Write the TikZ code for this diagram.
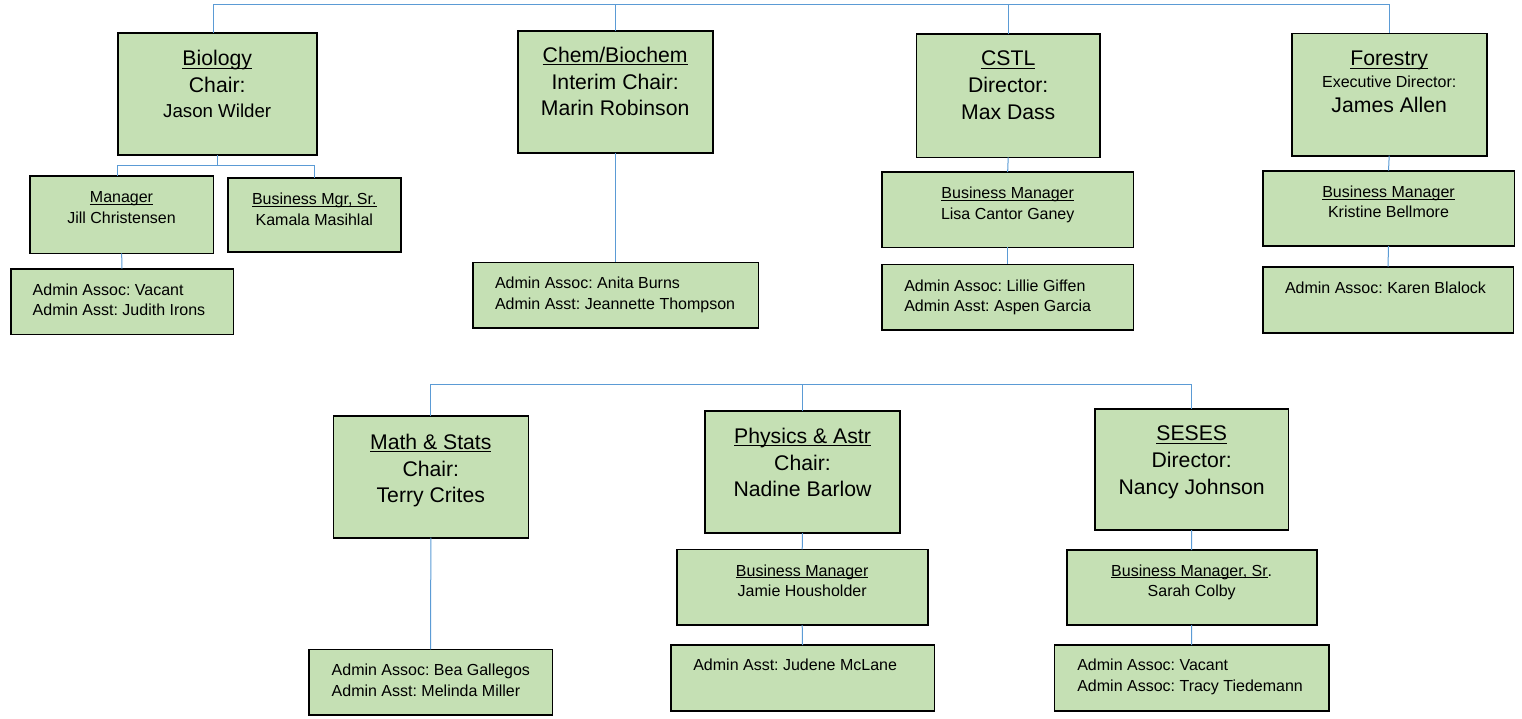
\documentclass[tikz,border=0pt]{standalone}
\usepackage{fontspec}
\setmainfont{Liberation Sans}
\usetikzlibrary{calc}
\frenchspacing
\definecolor{boxfill}{HTML}{C5E0B4}
\definecolor{connblue}{HTML}{5B9BD5}
\newcommand\myul[1]{\setbox0\hbox{#1}\rlap{\rule[-0.15em]{\wd0}{0.065em}}\box0}
\newcommand\bigf{\fontsize{21.2}{26.7}\selectfont}
\newcommand\smallf{\fontsize{16}{20.7}\selectfont}
\newcommand\orgbox[5]{\node[orgbox, minimum width=#4pt-#2pt, minimum height=#5pt-#3pt, anchor=north west] (#1) at (#2,#3) {};}
\tikzset{
  orgbox/.style={draw=black, fill=boxfill, line width=1.6pt, inner sep=0pt, outer sep=0pt},
  conn/.style={draw=connblue, line width=1pt},
  txt/.style={inner sep=0pt, outer sep=0pt, text=black}
}
\begin{document}
\begin{tikzpicture}[x=1pt,y=-1pt]
\useasboundingbox (0,0) rectangle (1522,718);
% ---------- boxes, top row ----------
\orgbox{bio}{117.7}{33}{316.7}{155}
\orgbox{mgr}{30}{175.7}{213.3}{253.3}
\orgbox{bmgr}{227.7}{177.7}{401}{252}
\orgbox{bioad}{10.7}{268.7}{233.3}{334.3}
\orgbox{chem}{517.7}{30.7}{712.7}{152.7}
\orgbox{chemad}{472.7}{262.3}{758.3}{327.7}
\orgbox{cstl}{916.4}{34}{1100}{157.3}
\orgbox{cstlbm}{882}{172}{1133.3}{247.3}
\orgbox{cstlad}{882}{264.3}{1133.3}{330}
\orgbox{for}{1291.7}{33.3}{1486.7}{155.7}
\orgbox{forbm}{1262.7}{170.7}{1514.3}{246}
\orgbox{forad}{1262.7}{266.7}{1513.3}{332.7}
% ---------- boxes, bottom row ----------
\orgbox{math}{333.3}{416}{528.3}{537.7}
\orgbox{mathad}{309}{649.3}{552.3}{715}
\orgbox{phys}{705}{411}{900}{533}
\orgbox{physbm}{676.7}{549.3}{927.7}{625}
\orgbox{physad}{670.7}{645}{934.3}{711}
\orgbox{seses}{1095}{409}{1288.3}{530}
\orgbox{sesesbm}{1066.7}{550}{1316.7}{625}
\orgbox{sesesad}{1054.3}{645}{1329}{711}
% ---------- texts ----------
\node[txt, anchor=base] (bio-t) at (217.2,65.8) {\bigf\begin{tabular}[t]{@{}c@{}}\myul{Biology}\\ Chair:\\[-1.4pt] \fontsize{18.7}{22}\selectfont Jason Wilder\end{tabular}};
\node[txt, anchor=base] (mgr-t) at (121.5,202.3) {\smallf\begin{tabular}[t]{@{}c@{}}\myul{Manager}\\ Jill Christensen\end{tabular}};
\node[txt, anchor=base] (bmgr-t) at (314.3,204.3) {\smallf\begin{tabular}[t]{@{}c@{}}\myul{Business Mgr, Sr.}\\ Kamala Masihlal\end{tabular}};
\node[txt, anchor=base west] (bioad-t) at (32.7,295) {\smallf\begin{tabular}[t]{@{}l@{}}Admin Assoc: Vacant\\ Admin Asst: Judith Irons\end{tabular}};
\node[txt, anchor=base] (chem-t) at (615.2,62.3) {\bigf\begin{tabular}[t]{@{}c@{}}\myul{Chem/Biochem}\\ Interim Chair:\\ Marin Robinson\end{tabular}};
\node[txt, anchor=base west] (chemad-t) at (495,288.3) {\smallf\begin{tabular}[t]{@{}l@{}}Admin Assoc: Anita Burns\\ Admin Asst: Jeannette Thompson\end{tabular}};
\node[txt, anchor=base] (cstl-t) at (1008.2,65.7) {\bigf\begin{tabular}[t]{@{}c@{}}\myul{CSTL}\\ Director:\\ Max Dass\end{tabular}};
\node[txt, anchor=base] (cstlbm-t) at (1007.7,198.3) {\smallf\begin{tabular}[t]{@{}c@{}}\myul{Business Manager}\\ Lisa Cantor Ganey\end{tabular}};
\node[txt, anchor=base west] (cstlad-t) at (904.3,291) {\smallf\begin{tabular}[t]{@{}l@{}}Admin Assoc: Lillie Giffen\\ Admin Asst: Aspen Garcia\end{tabular}};
\node[txt, anchor=base] (for-t) at (1389.2,65.7) {\bigf\begin{tabular}[t]{@{}c@{}}\myul{Forestry}\\[-4.7pt] \fontsize{16}{20}\selectfont Executive Director:\\[-1.7pt] James Allen\end{tabular}};
\node[txt, anchor=base] (forbm-t) at (1388.5,197.3) {\smallf\begin{tabular}[t]{@{}c@{}}\myul{Business Manager}\\[-1pt] Kristine Bellmore\end{tabular}};
\node[txt, anchor=base west] (forad-t) at (1285,293.3) {\smallf Admin Assoc: Karen Blalock};
\node[txt, anchor=base] (math-t) at (430.8,449.3) {\bigf\begin{tabular}[t]{@{}c@{}}\myul{Math \& Stats}\\ Chair:\\ Terry Crites\end{tabular}};
\node[txt, anchor=base west] (mathad-t) at (331.7,675.3) {\smallf\begin{tabular}[t]{@{}l@{}}Admin Assoc: Bea Gallegos\\ Admin Asst: Melinda Miller\end{tabular}};
\node[txt, anchor=base] (phys-t) at (802.5,443.3) {\bigf\begin{tabular}[t]{@{}c@{}}\myul{Physics \& Astr}\\ Chair:\\ Nadine Barlow\end{tabular}};
\node[txt, anchor=base] (physbm-t) at (802.2,576) {\smallf\begin{tabular}[t]{@{}c@{}}\myul{Business Manager}\\ Jamie Housholder\end{tabular}};
\node[txt, anchor=base west] (physad-t) at (693.3,670.7) {\smallf Admin Asst: Judene McLane};
\node[txt, anchor=base] (seses-t) at (1191.7,440.7) {\bigf\begin{tabular}[t]{@{}c@{}}\myul{SESES}\\ Director:\\ Nancy Johnson\end{tabular}};
\node[txt, anchor=base] (sesesbm-t) at (1191.7,576) {\smallf\begin{tabular}[t]{@{}c@{}}\myul{Business Manager, Sr}.\\ Sarah Colby\end{tabular}};
\node[txt, anchor=base west] (sesesad-t) at (1077.3,670.7) {\smallf\begin{tabular}[t]{@{}l@{}}Admin Assoc: Vacant\\ Admin Assoc: Tracy Tiedemann\end{tabular}};
% ---------- connectors ----------
\coordinate (topbus) at (0,4.5);
\coordinate (lowbus) at (0,384);
\coordinate (biobus) at (0,165.7);
\draw[conn] ([xshift=-3.5pt]bio.north) |- (topbus -| for.north) -- (for.north);
\draw[conn] (chem.north) -- (chem.north |- topbus);
\draw[conn] (cstl.north) -- (cstl.north |- topbus);
\draw[conn] (bio.south) -- (bio.south |- biobus);
\draw[conn] ([xshift=-3.8pt]mgr.north) |- (biobus -| bmgr.north) -- (bmgr.north);
\draw[conn] (mgr.south) -- (bioad.north);
\draw[conn] (chem.south) -- (chem.south |- chemad.north);
\draw[conn] (cstl.south) -- (cstlbm.north);
\draw[conn] (cstlbm.south) -- (cstlad.north);
\draw[conn] (for.south) -- (forbm.north);
\draw[conn] (forbm.south) -- (forad.north);
\draw[conn] (math.north) |- (lowbus -| seses.north) -- (seses.north);
\draw[conn] (phys.north) -- (phys.north |- lowbus);
\draw[conn] (math.south) -- (mathad.north);
\draw[conn] (phys.south) -- (physbm.north);
\draw[conn] (physbm.south) -- (physad.north);
\draw[conn] (seses.south) -- (sesesbm.north);
\draw[conn] (sesesbm.south) -- (sesesad.north);
\end{tikzpicture}
\end{document}
